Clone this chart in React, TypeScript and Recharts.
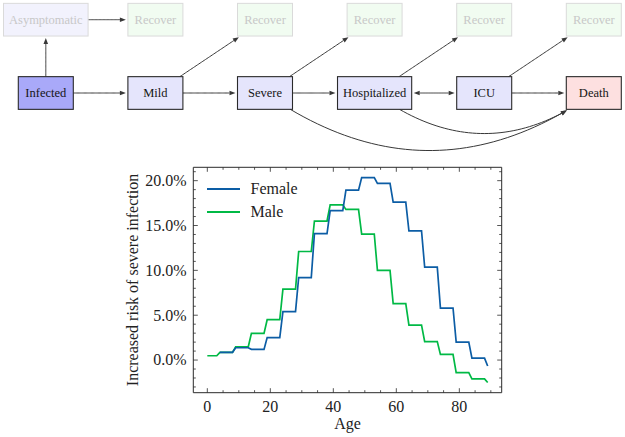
import React from 'react';
import {
  ScatterChart,
  Scatter,
  LineChart,
  Line,
  XAxis,
  YAxis,
  ReferenceLine,
  Legend,
} from 'recharts';

// ---- flow diagram: nodes sit on a column/row grid ----
const nodeNames = ['Infected', 'Asymptomatic', 'Mild', 'Severe', 'Hospitalized', 'ICU', 'Death', 'Recover', 'Recover', 'Recover', 'Recover', 'Recover'];
const nodeKinds = ['infected', 'faded', 'state', 'state', 'state', 'state', 'death', 'recover', 'recover', 'recover', 'recover', 'recover'];
const nodeCols = [0, 0, 1, 2, 3, 4, 5, 1, 2, 3, 4, 5];
const nodeRows = [0, 1, 0, 0, 0, 0, 0, 1, 1, 1, 1, 1];

// edges (index into the node lists)
const edgeFrom = [0, 0, 1, 2, 2, 3, 3, 3, 4, 4, 4, 5, 5];
const edgeTo = [1, 2, 7, 3, 8, 4, 9, 6, 5, 10, 6, 6, 11];
const edgeBend = [0, 0, 0, 0, 0, 0, 0, 0.35, 0, 0, 0.37, 0, 0];
const edgeBoth = [false, false, false, false, false, false, false, false, true, false, false, false, false];

// ---- risk by age: bin edges, values in % ----
const ages = [0, 3, 4, 8, 9, 13, 14, 18, 19, 23, 24, 28, 29, 33, 34, 38, 39, 43, 44, 48, 49, 53, 54, 58, 59, 63, 64, 68, 69, 73, 74, 78, 79, 83, 84, 88, 89];
const female = [null, null, 0.86, 0.86, 1.37, 1.37, 1.19, 1.19, 2.5, 2.5, 5.4, 5.4, 9.2, 9.2, 14.1, 14.1, 16.65, 16.65, 18.95, 18.95, 20.35, 20.35, 19.7, 19.7, 17.6, 17.6, 14.4, 14.4, 10.35, 10.35, 5.8, 5.8, 2.0, 2.0, 0.22, 0.22, -0.67];
const male = [0.48, 0.48, 0.86, 0.86, 1.48, 1.48, 2.97, 2.97, 4.5, 4.5, 7.9, 7.9, 12.1, 12.1, 15.5, 15.5, 17.3, 17.3, 16.8, 16.8, 14.05, 14.05, 10.0, 10.0, 6.3, 6.3, 3.9, 3.9, 2.05, 2.05, 0.63, 0.63, -1.4, -1.4, -2.1, -2.1, -2.5];

const xMajor = [0, 20, 40, 60, 80];
const xMinor = [0, 5, 10, 15, 20, 25, 30, 35, 40, 45, 50, 55, 60, 65, 70, 75, 80, 85, 90];
const yMajor = [0, 5, 10, 15, 20];
const yMinor = [-3, -2, -1, 0, 1, 2, 3, 4, 5, 6, 7, 8, 9, 10, 11, 12, 13, 14, 15, 16, 17, 18, 19, 20, 21];

const SERIF = 'Liberation Serif';
const AX = '#2b2b2b';
const FLOW_FONT = 12.5;
const BOX_H = 32.7;

const nodeStyle: Record<string, { fill: string; stroke: string; text: string; sw: number }> = {
  infected: { fill: '#a9a9f9', stroke: '#2a2a2a', text: '#151515', sw: 1.1 },
  state: { fill: '#e5e5fc', stroke: '#2a2a2a', text: '#151515', sw: 1.1 },
  death: { fill: '#fde0e0', stroke: '#2a2a2a', text: '#151515', sw: 1.1 },
  faded: { fill: '#f2f2fd', stroke: '#dadada', text: '#c8c8c8', sw: 1 },
  recover: { fill: '#f1fcf1', stroke: '#dadada', text: '#c8c8c8', sw: 1 },
};

let measureCtx: CanvasRenderingContext2D | null = null;
const textWidth = (s: string, size: number) => {
  if (!measureCtx) measureCtx = document.createElement('canvas').getContext('2d');
  if (measureCtx) {
    measureCtx.font = `${size}px "Liberation Serif"`;
    return measureCtx.measureText(s).width;
  }
  return s.length * size * 0.45;
};
const boxWidth = (name: string) => Math.max(55, textWidth(name, FLOW_FONT) + 11);

const nodeData = nodeNames.map((name, i) => ({ id: i, name, kind: nodeKinds[i], col: nodeCols[i], row: nodeRows[i] }));

const NodeBox = (props: any) => {
  const { cx, cy, payload } = props;
  const w = boxWidth(payload.name);
  const st = nodeStyle[payload.kind];
  return (
    <g fontFamily={SERIF} style={{ fontFamily: SERIF }}>
      <rect x={cx - w / 2} y={cy - BOX_H / 2} width={w} height={BOX_H} fill={st.fill} stroke={st.stroke} strokeWidth={st.sw} />
      <text
        x={cx}
        y={cy}
        dy="0.33em"
        textAnchor="middle"
        fontFamily={SERIF}
        fontSize={FLOW_FONT}
        style={{ fontFamily: SERIF, fontSize: FLOW_FONT }}
        fill={st.text}
      >
        {payload.name}
      </text>
    </g>
  );
};

const HEAD_L = 6;
const HEAD_W = 2.3;

// edge drawn as (possibly bent) quadratic curve between node centres, clipped at the boxes
const renderEdge = (i: number) => (p: any) => {
  const { x1, y1, x2, y2 } = p;
  if (![x1, y1, x2, y2].every((v) => Number.isFinite(v))) return <g />;
  const hwA = boxWidth(nodeNames[edgeFrom[i]]) / 2;
  const hwB = boxWidth(nodeNames[edgeTo[i]]) / 2;
  const hh = BOX_H / 2;
  const bend = edgeBend[i];
  const qx = (x1 + x2) / 2 - bend * (y2 - y1);
  const qy = (y1 + y2) / 2 + bend * (x2 - x1);
  const at = (t: number) => ({
    x: (1 - t) * (1 - t) * x1 + 2 * t * (1 - t) * qx + t * t * x2,
    y: (1 - t) * (1 - t) * y1 + 2 * t * (1 - t) * qy + t * t * y2,
  });
  const der = (t: number) => ({
    x: 2 * (1 - t) * (qx - x1) + 2 * t * (x2 - qx),
    y: 2 * (1 - t) * (qy - y1) + 2 * t * (y2 - qy),
  });
  const speed = (t: number) => Math.hypot(der(t).x, der(t).y);
  const inA = (q: { x: number; y: number }) => Math.abs(q.x - x1) <= hwA && Math.abs(q.y - y1) <= hh;
  const inB = (q: { x: number; y: number }) => Math.abs(q.x - x2) <= hwB && Math.abs(q.y - y2) <= hh;
  let t0 = 0;
  while (t0 < 1 && inA(at(t0))) t0 += 0.0005;
  let t1 = 1;
  while (t1 > 0 && inB(at(t1))) t1 -= 0.0005;
  t1 -= 2 / speed(t1);
  if (edgeBoth[i]) t0 += 2 / speed(t0);

  const head = (t: number, sign: number) => {
    const tip = at(t);
    const d = der(t);
    const len = Math.hypot(d.x, d.y);
    const ux = (d.x / len) * sign;
    const uy = (d.y / len) * sign;
    const bx = tip.x - ux * HEAD_L;
    const by = tip.y - uy * HEAD_L;
    return `${tip.x},${tip.y} ${bx - uy * HEAD_W},${by + ux * HEAD_W} ${bx + uy * HEAD_W},${by - ux * HEAD_W}`;
  };

  const lineEnd = t1 - HEAD_L / speed(t1);
  const lineStart = edgeBoth[i] ? t0 + HEAD_L / speed(t0) : t0;
  const n = 40;
  let d = '';
  for (let k = 0; k <= n; k++) {
    const q = at(lineStart + ((lineEnd - lineStart) * k) / n);
    d += `${k === 0 ? 'M' : 'L'}${q.x},${q.y}`;
  }
  return (
    <g>
      <path d={d} fill="none" stroke="#383838" strokeWidth={1} />
      <polygon points={head(t1, 1)} fill="#383838" />
      {edgeBoth[i] && <polygon points={head(t0, -1)} fill="#383838" />}
    </g>
  );
};

const lineData = ages.map((age, i) => ({ age, female: female[i], male: male[i] }));

const txt = { fontFamily: SERIF, fontSize: 16 };

const BottomTick = ({ x, y, payload }: any) => {
  const major = xMajor.includes(payload.value);
  return (
    <g>
      <line x1={x} x2={x} y1={y} y2={y - (major ? 4.5 : 2.5)} stroke={AX} strokeWidth={0.8} />
      {major && (
        <text x={x} y={y + 19} textAnchor="middle" fontFamily={SERIF} style={txt} fill="#222">
          {payload.value}
        </text>
      )}
    </g>
  );
};

const TopTick = ({ x, y, payload }: any) => {
  const major = xMajor.includes(payload.value);
  return <line x1={x} x2={x} y1={y} y2={y + (major ? 4.5 : 2.5)} stroke={AX} strokeWidth={0.8} />;
};

const LeftTick = ({ x, y, payload }: any) => {
  const major = yMajor.includes(payload.value);
  return (
    <g>
      <line x1={x} x2={x + (major ? 4.5 : 2.5)} y1={y} y2={y} stroke={AX} strokeWidth={0.8} />
      {major && (
        <text x={x - 6.6} y={y} dy="0.34em" textAnchor="end" fontFamily={SERIF} style={txt} fill="#222">
          {`${payload.value.toFixed(1)}%`}
        </text>
      )}
    </g>
  );
};

const RightTick = ({ x, y, payload }: any) => {
  const major = yMajor.includes(payload.value);
  return <line x1={x} x2={x - (major ? 4.5 : 2.5)} y1={y} y2={y} stroke={AX} strokeWidth={0.8} />;
};

const renderLegend = (props: any) => {
  const items = [...(props.payload || [])].sort((a: any, b: any) => String(a.value).localeCompare(String(b.value)));
  return (
    <div style={{ fontFamily: SERIF, fontSize: 16, color: '#222' }}>
      {items.map((it: any) => (
        <div key={it.value} style={{ display: 'flex', alignItems: 'center', height: 23 }}>
          <svg width={33} height={4} style={{ display: 'block' }}>
            <line x1={0} y1={2} x2={33} y2={2} stroke={it.color} strokeWidth={1.8} />
          </svg>
          <span style={{ marginLeft: 11 }}>{it.value}</span>
        </div>
      ))}
    </div>
  );
};

export default function App() {
  return (
    <div style={{ position: 'absolute', left: 0, top: 0, width: 625, height: 437, background: '#fff', fontFamily: SERIF }}>
      <div style={{ position: 'absolute', left: 0, top: 0 }}>
        <ScatterChart width={625} height={155} margin={{ top: 19.7, right: 31.2, bottom: 62, left: 45.8 }}>
          <XAxis type="number" dataKey="col" domain={[0, 5]} hide />
          <YAxis type="number" dataKey="row" domain={[0, 1]} hide />
          {edgeFrom.map((f, i) => (
            <ReferenceLine
              key={i}
              segment={[
                { x: nodeCols[f], y: nodeRows[f] },
                { x: nodeCols[edgeTo[i]], y: nodeRows[edgeTo[i]] },
              ]}
              ifOverflow="visible"
              shape={renderEdge(i)}
            />
          ))}
          <Scatter data={nodeData} shape={NodeBox} isAnimationActive={false} />
        </ScatterChart>
      </div>
      <div style={{ position: 'absolute', left: 0, top: 155 }}>
        <LineChart width={625} height={282} data={lineData} margin={{ top: 11.3, right: 122.3, bottom: 43.3, left: 192.3 }}>
          <XAxis
            dataKey="age"
            type="number"
            domain={[-4.45, 93.45]}
            allowDataOverflow
            ticks={xMinor}
            interval={0}
            height={1}
            tickSize={0}
            tickMargin={0}
            tickLine={false}
            tick={<BottomTick />}
            axisLine={{ stroke: AX, strokeWidth: 1 }}
            label={{ value: 'Age', position: 'bottom', offset: 24, fontFamily: SERIF, style: txt, fill: '#222' }}
          />
          <XAxis
            xAxisId="top"
            orientation="top"
            dataKey="age"
            type="number"
            domain={[-4.45, 93.45]}
            allowDataOverflow
            ticks={xMinor}
            interval={0}
            height={1}
            tickSize={0}
            tickMargin={0}
            tickLine={false}
            tick={<TopTick />}
            axisLine={{ stroke: AX, strokeWidth: 1 }}
          />
          <YAxis
            type="number"
            domain={[-3.64, 21.49]}
            allowDataOverflow
            ticks={yMinor}
            interval={0}
            width={1}
            tickSize={0}
            tickMargin={0}
            tickLine={false}
            tick={<LeftTick />}
            axisLine={{ stroke: AX, strokeWidth: 1 }}
            label={{
              value: 'Increased risk of severe infection',
              angle: -90,
              position: 'left',
              offset: 60,
              fill: '#222',
              fontFamily: SERIF,
              style: { ...txt, textAnchor: 'middle' },
            }}
          />
          <YAxis
            yAxisId="right"
            orientation="right"
            type="number"
            domain={[-3.64, 21.49]}
            allowDataOverflow
            ticks={yMinor}
            interval={0}
            width={1}
            tickSize={0}
            tickMargin={0}
            tickLine={false}
            tick={<RightTick />}
            axisLine={{ stroke: AX, strokeWidth: 1 }}
          />
          <Legend
            layout="horizontal"
            verticalAlign="middle"
            align="center"
            content={renderLegend}
            wrapperStyle={{ left: 206.5, top: 22.5, width: 'auto', height: 'auto' }}
          />
          <Line dataKey="male" name="Male" type="linear" stroke="#00B945" strokeWidth={1.7} dot={false} activeDot={false} isAnimationActive={false} />
          <Line dataKey="female" name="Female" type="linear" stroke="#0C5DA5" strokeWidth={1.7} dot={false} activeDot={false} isAnimationActive={false} />
        </LineChart>
      </div>
    </div>
  );
}
